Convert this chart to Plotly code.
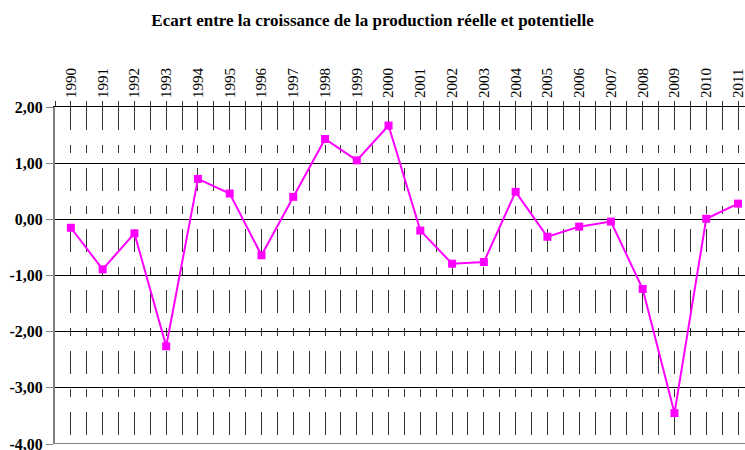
import plotly.graph_objects as go

# Data
years = list(range(1990, 2012))
ecart = [-0.15, -0.89, -0.25, -2.26, 0.72, 0.46, -0.64, 0.40, 1.43, 1.05, 1.67,
         -0.20, -0.79, -0.76, 0.49, -0.31, -0.13, -0.04, -1.24, -3.45, 0.01, 0.28]

y_ticks = [2, 1, 0, -1, -2, -3, -4]
y_labels = [f"{v:.2f}".replace(".", ",") for v in y_ticks]

serif = "Liberation Serif"
dash = "23px,15px,8px,15px"

fig = go.Figure()

fig.add_trace(go.Scatter(
    x=years, y=ecart,
    mode="lines+markers",
    line=dict(color="#FF00FF", width=2),
    marker=dict(symbol="square", size=8, color="#FF00FF"),
    showlegend=False,
))

# bottom axis line (x axis sits on top)
fig.add_shape(type="line", xref="paper", yref="y", x0=0, x1=1, y0=-4, y1=-4,
              line=dict(color="#808080", width=2))

fig.update_layout(
    width=745, height=450,
    margin=dict(l=55, r=0, t=107, b=6, autoexpand=False),
    paper_bgcolor="white", plot_bgcolor="white",
    title=dict(
        text="<b>Ecart entre la croissance de la production réelle et potentielle</b>",
        font=dict(family=serif, size=17, color="black"),
        x=0.5, xref="container", xanchor="center",
        y=0.956, yref="container", yanchor="middle",
    ),
    xaxis=dict(
        side="top",
        range=[1989.5, 2011.22],
        tickmode="array", tickvals=years, ticktext=[str(y) for y in years],
        tickangle=-90,
        tickfont=dict(family=serif, size=15, color="black"),
        ticklabeloverflow="allow",
        ticks="outside", ticklen=5, tickcolor="#333",
        showline=True, linecolor="black", linewidth=1,
        showgrid=True, gridcolor="#333", gridwidth=1, griddash=dash,
        minor=dict(dtick=1, tick0=1989.5, ticks="outside", ticklen=5, tickcolor="#333",
                   showgrid=True, gridcolor="#333", gridwidth=1, griddash=dash),
        zeroline=False,
    ),
    yaxis=dict(
        range=[-4, 2],
        tickmode="array", tickvals=y_ticks, ticktext=y_labels,
        tickfont=dict(family=serif, size=16, color="black", weight="bold"),
        ticklabeloverflow="allow",
        ticks="outside", ticklen=7, tickcolor="#808080",
        showline=True, linecolor="#808080", linewidth=2,
        showgrid=True, gridcolor="black", gridwidth=1,
        zeroline=True, zerolinecolor="black", zerolinewidth=1,
    ),
)

fig.write_html("out.html", config={"displayModeBar": False},
               post_script="document.body.style.margin='0';")
